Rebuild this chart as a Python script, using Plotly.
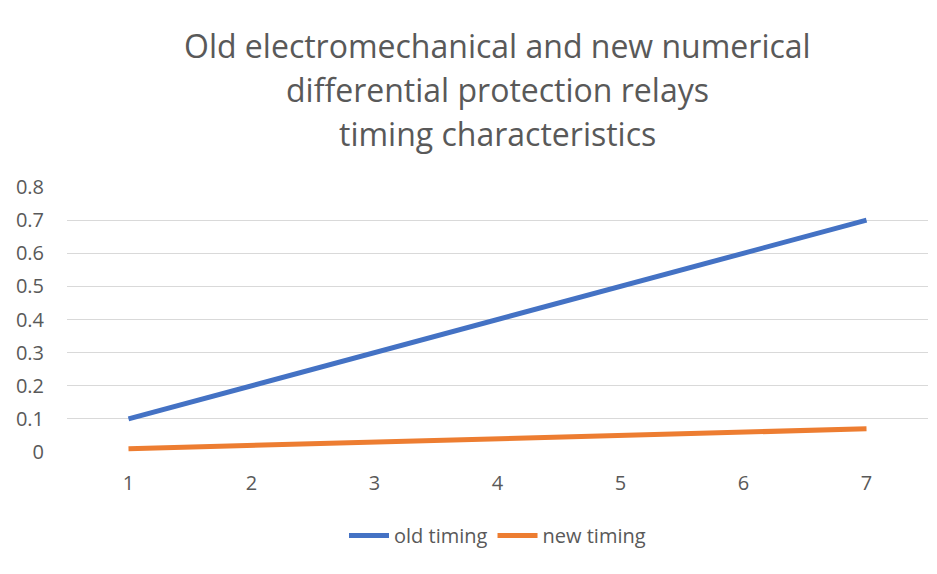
import plotly.graph_objects as go

categories = ["1", "2", "3", "4", "5", "6", "7"]
old_timing = [0.1, 0.2, 0.3, 0.4, 0.5, 0.6, 0.7]
new_timing = [0.01, 0.02, 0.03, 0.04, 0.05, 0.06, 0.07]
y_ticks = [0, 0.1, 0.2, 0.3, 0.4, 0.5, 0.6, 0.7, 0.8]
y_tick_labels = ["0", "0.1", "0.2", "0.3", "0.4", "0.5", "0.6", "0.7", "0.8"]

title_lines = [
    "Old electromechanical and new numerical",
    "differential protection relays",
    "timing characteristics",
]

FONT = "Open Sans, Liberation Sans, sans-serif"
GREY = "#595959"

fig = go.Figure()
fig.add_trace(go.Scatter(
    x=categories, y=old_timing, name="old timing", mode="lines",
    line=dict(color="#4472C4", width=5),
))
fig.add_trace(go.Scatter(
    x=categories, y=new_timing, name="new timing", mode="lines",
    line=dict(color="#ED7D31", width=5),
))

# Three-line chart title with generous line spacing
for i, line in enumerate(title_lines):
    fig.add_annotation(
        text=line, xref="paper", yref="paper", x=0.5, y=1,
        yshift=142 - i * 44, showarrow=False, xanchor="center", yanchor="middle",
        font=dict(family=FONT, size=32, color=GREY),
    )

fig.update_layout(
    width=937, height=574,
    margin=dict(l=67, r=9, t=187, b=122),
    paper_bgcolor="white", plot_bgcolor="white",
    font=dict(family=FONT, size=20, color=GREY),
    showlegend=True,
    legend=dict(
        orientation="h", x=0.5, xanchor="center", y=-0.315, yanchor="middle",
        font=dict(family=FONT, size=20, color=GREY),
        itemwidth=40, tracegroupgap=0,
    ),
    xaxis=dict(
        type="category", range=[-0.5, 6.5], showgrid=False, zeroline=False,
        showline=False, ticks="", tickfont=dict(family=FONT, size=20, color=GREY),
        ticklabelstandoff=17,
    ),
    yaxis=dict(
        range=[0, 0.8], tickvals=y_ticks, ticktext=y_tick_labels,
        showgrid=True, gridcolor="#D9D9D9", gridwidth=1, zeroline=False,
        showline=False, ticks="", tickfont=dict(family=FONT, size=20, color=GREY),
        ticklabelstandoff=22,
    ),
)

fig.write_html("out.html")
